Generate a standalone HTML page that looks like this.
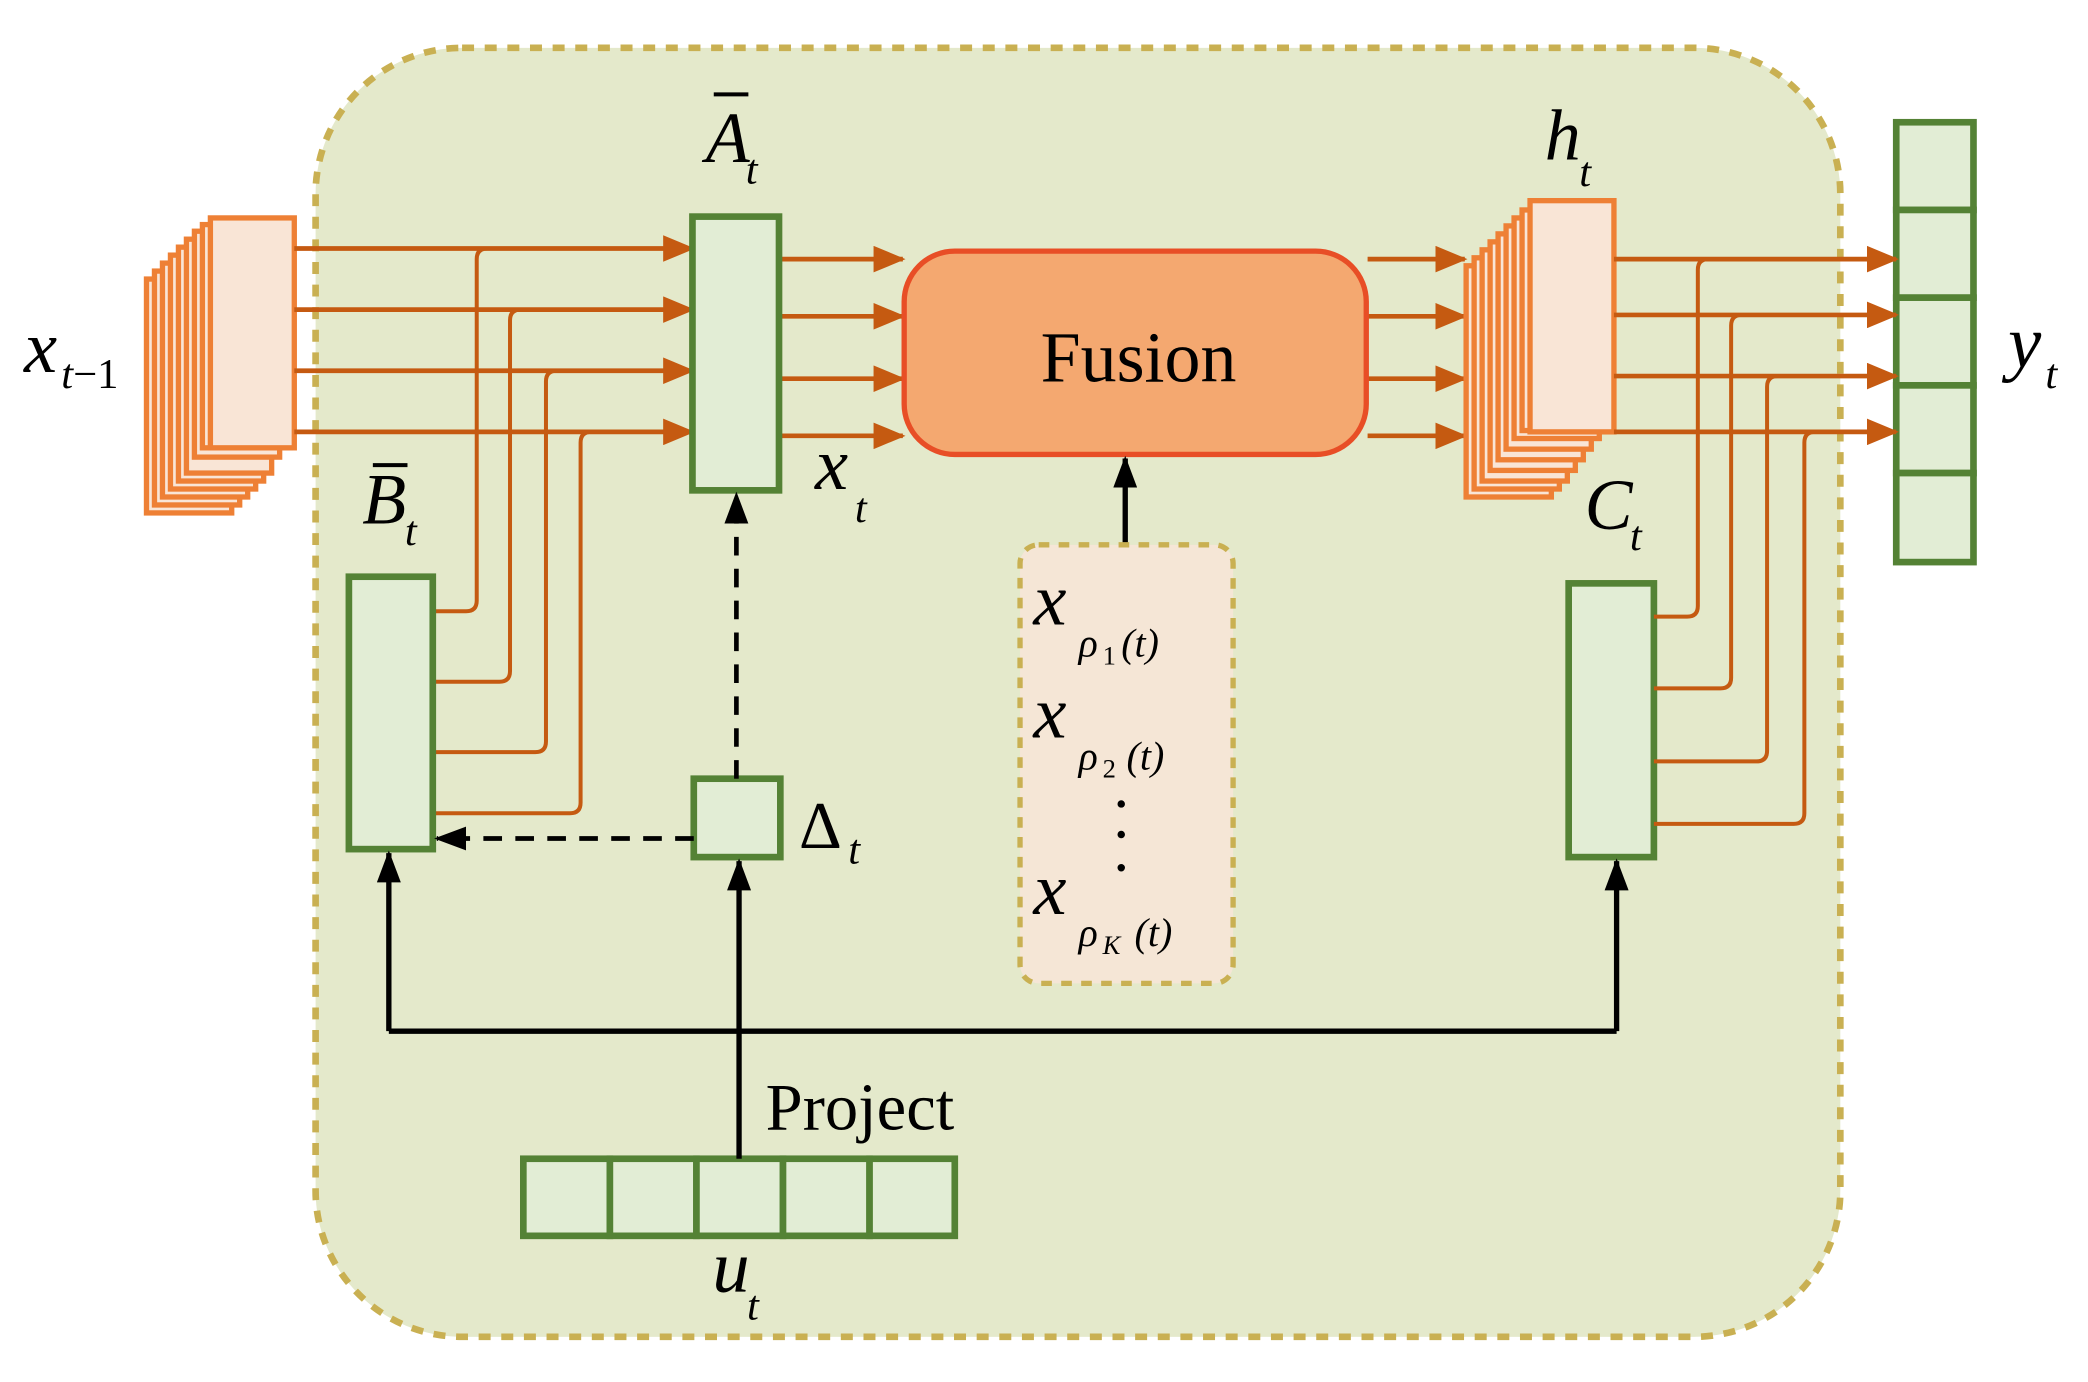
<!DOCTYPE html>
<html><head><meta charset="utf-8"><style>html,body{margin:0;padding:0;background:#fff}svg{display:block}text{font-family:"Liberation Serif",serif}</style></head>
<body>
<svg width="2088" height="1382" viewBox="0 0 1568 1040" preserveAspectRatio="none" xmlns="http://www.w3.org/2000/svg">
<defs>
<marker id="oa" markerWidth="24" markerHeight="20" refX="22" refY="10" orient="auto" markerUnits="userSpaceOnUse" viewBox="0 0 24 20"><path d="M0,0 L24,10 L0,20z" fill="#c55a11"/></marker>
<marker id="ka" markerWidth="24" markerHeight="18" refX="22" refY="9" orient="auto" markerUnits="userSpaceOnUse" viewBox="0 0 24 18"><path d="M0,0 L24,9 L0,18z" fill="#000"/></marker>
</defs>
<rect x="237" y="36" width="1145" height="970" rx="110" fill="#e4e9cb" stroke="#c9b052" stroke-width="5" stroke-dasharray="9,8"/>
<g fill="#f9e5d6" stroke="#ee8035" stroke-width="4">
<rect x="110" y="210" width="64" height="176"/><rect x="116" y="204" width="64" height="176"/><rect x="122" y="198" width="64" height="176"/><rect x="128" y="192" width="64" height="176"/><rect x="134" y="186" width="64" height="176"/><rect x="140" y="180" width="64" height="176"/><rect x="146" y="174" width="64" height="170"/><rect x="152" y="169" width="66" height="168"/><rect x="158" y="164" width="63" height="173"/>
</g>
<text x="18" y="280" font-size="56" font-style="italic">x</text><text x="46" y="292" font-size="32"><tspan font-style="italic">t</tspan>−1</text>
<g fill="none" stroke="#c55a11" stroke-width="3">
<path d="M325,460 H350 Q358,460 358,452 V195 Q358,187 366,187"/>
<path d="M325,513 H375 Q383,513 383,505 V241 Q383,233 391,233"/>
<path d="M325,566 H402 Q410,566 410,558 V287 Q410,279 418,279"/>
<path d="M325,612 H428 Q436,612 436,604 V333 Q436,325 444,325"/>
</g>
<g stroke="#c55a11" stroke-width="3.5" marker-end="url(#oa)">
<line x1="221" y1="187" x2="520" y2="187"/><line x1="221" y1="233" x2="520" y2="233"/><line x1="221" y1="279" x2="520" y2="279"/><line x1="221" y1="325" x2="520" y2="325"/>
<line x1="585" y1="195" x2="678" y2="195"/><line x1="585" y1="238" x2="678" y2="238"/><line x1="585" y1="285" x2="678" y2="285"/><line x1="585" y1="328" x2="678" y2="328"/>
<line x1="1027" y1="195" x2="1100" y2="195"/><line x1="1027" y1="238" x2="1100" y2="238"/><line x1="1027" y1="285" x2="1100" y2="285"/><line x1="1027" y1="328" x2="1100" y2="328"/>
</g>
<g fill="#e2edd5" stroke="#548235" stroke-width="5">
<rect x="520" y="163" width="65" height="206"/>
<rect x="262" y="434" width="63" height="205"/>
<rect x="521" y="586" width="65" height="59"/>
<rect x="1178" y="439" width="64" height="206"/>
<rect x="1424" y="92" width="58" height="66"/><rect x="1424" y="158" width="58" height="66"/><rect x="1424" y="224" width="58" height="66"/><rect x="1424" y="290" width="58" height="66"/><rect x="1424" y="356" width="58" height="67"/>
<rect x="393" y="872" width="65" height="58"/><rect x="458" y="872" width="65" height="58"/><rect x="523" y="872" width="65" height="58"/><rect x="588" y="872" width="65" height="58"/><rect x="653" y="872" width="64" height="58"/>
</g>
<text x="530" y="122" font-size="54" font-style="italic">A</text><line x1="536" y1="71" x2="562" y2="71" stroke="#000" stroke-width="3"/><text x="560" y="138" font-size="32" font-style="italic">t</text>
<text x="272" y="394" font-size="54" font-style="italic">B</text><line x1="280" y1="350" x2="306" y2="350" stroke="#000" stroke-width="3"/><text x="304" y="410" font-size="32" font-style="italic">t</text>
<text x="612" y="368" font-size="56" font-style="italic">x</text><text x="642" y="393" font-size="32" font-style="italic">t</text>
<text x="600" y="638" font-size="50">Δ</text><text x="637" y="650" font-size="32" font-style="italic">t</text>
<rect x="679" y="189" width="347" height="153" rx="38" fill="#f4a870" stroke="#e84e26" stroke-width="4"/>
<text x="855" y="287" font-size="54" text-anchor="middle">Fusion</text>
<g stroke="#000" stroke-width="3.5" fill="none">
<line x1="553" y1="586" x2="553" y2="372" stroke-dasharray="14,10" marker-end="url(#ka)"/>
<line x1="521" y1="631" x2="328" y2="631" stroke-dasharray="14,10" marker-end="url(#ka)"/>
<polyline points="292,776 1214,776" stroke-width="4"/>
<line x1="292" y1="776" x2="292" y2="642" marker-end="url(#ka)" stroke-width="4"/>
<line x1="1214" y1="776" x2="1214" y2="648" marker-end="url(#ka)" stroke-width="4"/>
<line x1="555" y1="872" x2="555" y2="648" marker-end="url(#ka)" stroke-width="4"/>
<line x1="845" y1="410" x2="845" y2="345" marker-end="url(#ka)" stroke-width="4"/>
</g>
<text x="575" y="850" font-size="50">Project</text>
<text x="535" y="972" font-size="56" font-style="italic">u</text><text x="561" y="993" font-size="32" font-style="italic">t</text>
<rect x="766" y="410" width="160" height="330" rx="14" fill="#f5e6d6" stroke="#c9b052" stroke-width="4" stroke-dasharray="8,7"/>
<g font-style="italic">
<text x="776" y="470" font-size="56">x</text><text x="810" y="494" font-size="30">ρ</text><text x="828" y="500" font-size="20" font-style="normal">1</text><text x="842" y="494" font-size="30">(t)</text>
<text x="776" y="555" font-size="56">x</text><text x="810" y="579" font-size="30">ρ</text><text x="828" y="585" font-size="20" font-style="normal">2</text><text x="846" y="579" font-size="30">(t)</text>
<text x="776" y="688" font-size="56">x</text><text x="810" y="712" font-size="30">ρ</text><text x="828" y="718" font-size="20">K</text><text x="852" y="712" font-size="30">(t)</text>
</g>
<g fill="#000"><circle cx="842" cy="605" r="2.8"/><circle cx="842" cy="628" r="2.8"/><circle cx="842" cy="653" r="2.8"/></g>
<g fill="#f9e5d6" stroke="#ee8035" stroke-width="4">
<rect x="1101" y="200" width="64" height="174"/><rect x="1107" y="194" width="64" height="174"/><rect x="1113" y="188" width="64" height="174"/><rect x="1119" y="182" width="64" height="172"/><rect x="1125" y="176" width="64" height="170"/><rect x="1131" y="170" width="64" height="168"/><rect x="1137" y="164" width="64" height="166"/><rect x="1143" y="158" width="64" height="166"/><rect x="1149" y="151" width="63" height="174"/>
</g>
<text x="1160" y="120" font-size="54" font-style="italic">h</text><text x="1186" y="140" font-size="32" font-style="italic">t</text>
<text x="1190" y="398" font-size="54" font-style="italic">C</text><text x="1224" y="414" font-size="32" font-style="italic">t</text>
<text x="1508" y="276" font-size="56" font-style="italic">y</text><text x="1536" y="292" font-size="32" font-style="italic">t</text>
<g fill="none" stroke="#c55a11" stroke-width="3">
<path d="M1242,464 H1267 Q1275,464 1275,456 V203 Q1275,195 1283,195"/>
<path d="M1242,518 H1292 Q1300,518 1300,510 V245 Q1300,237 1308,237"/>
<path d="M1242,573 H1319 Q1327,573 1327,565 V291 Q1327,283 1335,283"/>
<path d="M1242,620 H1347 Q1355,620 1355,612 V333 Q1355,325 1363,325"/>
</g>
<g stroke="#c55a11" stroke-width="3.5" marker-end="url(#oa)">
<line x1="1212" y1="195" x2="1424" y2="195"/><line x1="1212" y1="237" x2="1424" y2="237"/><line x1="1212" y1="283" x2="1424" y2="283"/><line x1="1212" y1="325" x2="1424" y2="325"/>
</g>
</svg>
</body></html>
